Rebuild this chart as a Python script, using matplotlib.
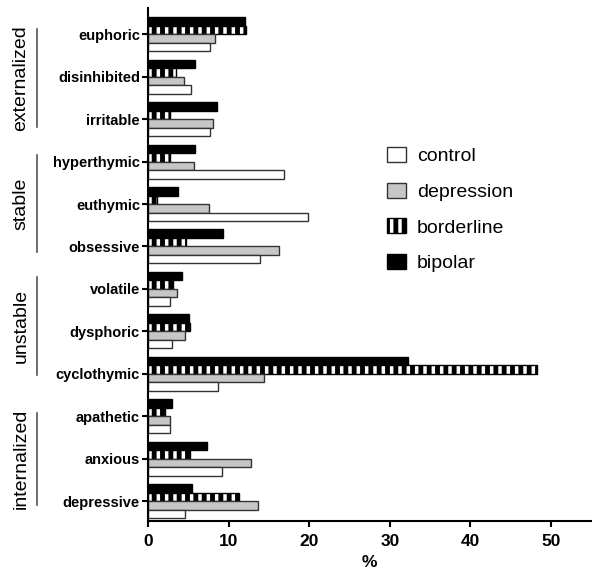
import matplotlib.pyplot as plt
import numpy as np
from matplotlib.patches import Patch

plt.rcParams['font.family'] = ['Liberation Sans', 'DejaVu Sans']
plt.rcParams['hatch.linewidth'] = 3.5

# andmed
kategooriad = ["euphoric", "disinhibited", "irritable", "hyperthymic", "euthymic",
               "obsessive", "volatile", "dysphoric", "cyclothymic", "apathetic",
               "anxious", "depressive"]
control = [7.7, 5.3, 7.7, 16.8, 19.8, 13.9, 2.7, 3.0, 8.7, 2.7, 9.2, 4.5]
depression = [8.3, 4.4, 8.0, 5.7, 7.5, 16.2, 3.6, 4.5, 14.4, 2.7, 12.8, 13.6]
borderline = [12.2, 3.5, 2.7, 2.7, 1.1, 4.7, 3.1, 5.2, 48.3, 2.1, 5.2, 11.3]
bipolar = [12.0, 5.8, 8.5, 5.8, 3.7, 9.3, 4.2, 5.0, 32.3, 2.9, 7.3, 5.4]
grupid = ["externalized", "stable", "unstable", "internalized"]

fig = plt.figure(figsize=(5.92, 5.75), dpi=100)
ax = fig.add_axes([148.3 / 592, 1 - 521 / 575, (591 - 148.3) / 592, (521 - 8) / 575])

y = np.arange(len(kategooriad))
h = 0.2
ax.barh(y - 0.3, bipolar, h, color="black", edgecolor="black", lw=1)
ax.barh(y - 0.1, borderline, h, color="white", edgecolor="black", lw=1, hatch="||")
ax.barh(y + 0.1, depression, h, color="#c6c6c6", edgecolor="#333333", lw=1)
ax.barh(y + 0.3, control, h, color="white", edgecolor="#333333", lw=1)

ax.set_ylim(11.47, -0.62)
ax.set_xlim(0, 55)
ax.set_yticks(y)
ax.set_yticklabels(kategooriad, fontsize=10.5, fontweight="bold")
ax.set_xticks([0, 10, 20, 30, 40, 50])
ax.set_xticklabels(["0", "10", "20", "30", "40", "50"], fontsize=12.5, fontweight="bold")
ax.set_xlabel("%", fontsize=12.5, fontweight="bold", labelpad=5)
for s in ["top", "right"]:
    ax.spines[s].set_visible(False)
for s in ["left", "bottom"]:
    ax.spines[s].set_linewidth(1.5)
ax.tick_params(axis="y", width=1.5, length=4, pad=2)
ax.tick_params(axis="x", width=1.5, length=4, pad=5)

# grupid vasakul
vahemikud = [(29, 127), (155, 252), (277, 375), (413, 505)]
for nimi, (a, b) in zip(grupid, vahemikud):
    fig.add_artist(plt.Line2D([37 / 592, 37 / 592], [1 - a / 575, 1 - b / 575],
                              color="#555555", lw=1.2))
    fig.text(21 / 592, 1 - (a + b) / 2 / 575, nimi, rotation=90, fontsize=14,
             ha="center", va="center")

handles = [Patch(facecolor="white", edgecolor="#333333"),
           Patch(facecolor="#c6c6c6", edgecolor="#333333"),
           Patch(facecolor="white", edgecolor="black", hatch="||"),
           Patch(facecolor="black", edgecolor="black")]
fig.legend(handles, ["control", "depression", "borderline", "bipolar"],
           loc="upper left", bbox_to_anchor=(387 / 592, 1 - 147 / 575),
           frameon=False, fontsize=14, borderpad=0, borderaxespad=0,
           handlelength=1.0, handleheight=0.8, handletextpad=0.55, labelspacing=0.9)

plt.savefig("out.png", dpi=100)
